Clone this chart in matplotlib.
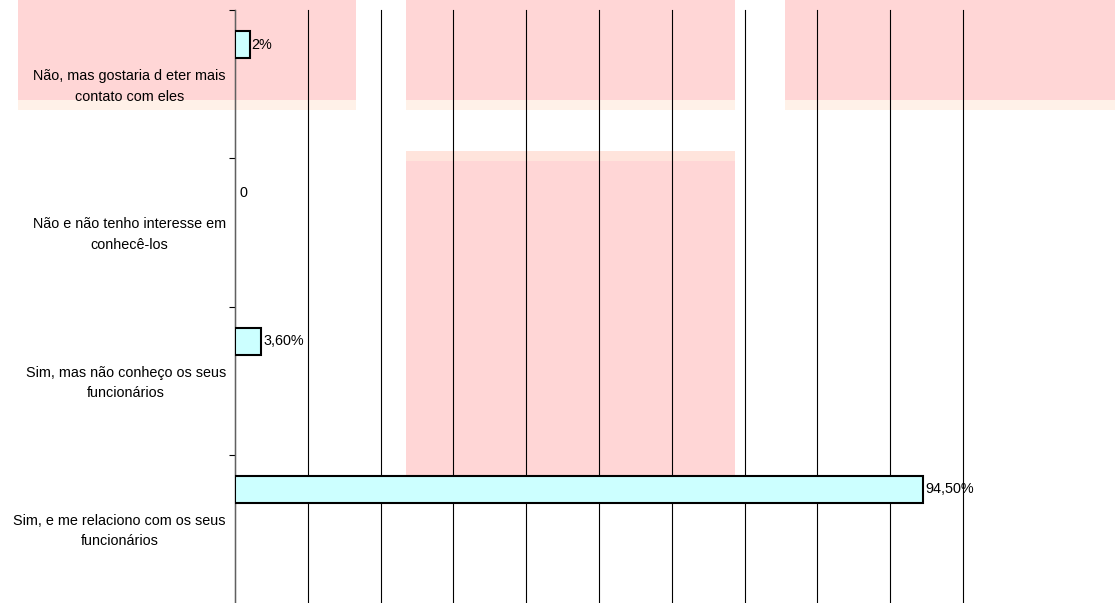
import matplotlib
matplotlib.use("Agg")
import matplotlib.pyplot as plt
from matplotlib.patches import Rectangle

plt.rcParams['font.family'] = ['Liberation Sans', 'DejaVu Sans']

categories = [
    "Não, mas gostaria d eter mais\ncontato com eles",
    "Não e não tenho interesse em\nconhecê-los",
    "Sim, mas não conheço os seus\nfuncionários",
    "Sim, e me relaciono com os seus\nfuncionários",
]
values = [2.0, 0.0, 3.6, 94.5]
value_labels = ["2%", "0", "3,60%", "94,50%"]
x_ticks = [0, 10, 20, 30, 40, 50, 60, 70, 80, 90, 100]

W, H = 1115, 603
fig = plt.figure(figsize=(W / 100, H / 100), dpi=100)
fig.patch.set_facecolor('white')

# background pink blocks (figure pixel coords: x0, y0_top, x1, y1_bottom)
def px_rect(x0, y0, x1, y1, color):
    fig.patches.append(Rectangle((x0 / W, 1 - y1 / H), (x1 - x0) / W, (y1 - y0) / H,
                                 transform=fig.transFigure, facecolor=color,
                                 edgecolor='none', zorder=0))

fringe = '#FFF1E8'
pink = '#FFD6D6'
px_rect(18, 0, 356, 110, fringe)
px_rect(18, 0, 356, 100, pink)
px_rect(406, 0, 735, 110, fringe)
px_rect(406, 0, 735, 100, pink)
px_rect(785, 0, 1115, 110, fringe)
px_rect(785, 0, 1115, 100, pink)
px_rect(406, 151, 735, 476, '#FFE4DC')
px_rect(406, 161, 735, 476, pink)

ax = fig.add_axes([235 / W, 0, (963 - 235) / W, (H - 10) / H])
ax.set_zorder(2)
ax.patch.set_alpha(0)

FS = 10.4
n = len(categories)
pos = list(range(n))
bar_offset = -0.266
bar_h = 0.18
bar_y = [p + bar_offset for p in pos]
edges = ['black' if v > 0 else 'none' for v in values]
ax.barh(bar_y, values, height=bar_h, color='#CCFFFF', edgecolor=edges,
        linewidth=1.5, zorder=3)

for y, v, lab in zip(bar_y, values, value_labels):
    ax.annotate(lab, xy=(v, y), xytext=(1.5 if v > 0 else 3.5, 0), textcoords='offset points',
                ha='left', va='center', fontsize=FS, color='black', zorder=4)

ax.set_xlim(0, 100)
ax.set_ylim(n - 0.5, -0.5)
ax.set_xticks(x_ticks)
ax.set_xticklabels([])
ax.tick_params(axis='x', length=0)
ax.grid(axis='x', color='black', linewidth=0.8, zorder=1)
for gl in ax.get_xgridlines():
    gl.set_clip_on(False)

ax.set_yticks([p - 0.5 for p in pos])
ax.set_yticklabels([])
ax.tick_params(axis='y', direction='out', length=4, width=0.8, color='black')

for s in ['top', 'right', 'bottom']:
    ax.spines[s].set_visible(False)
ax.spines['left'].set_color('#606060')
ax.spines['left'].set_linewidth(1.0)

for p, cat in zip(pos, categories):
    ax.text(-0.0124, p + 0.015, cat, transform=ax.get_yaxis_transform(), ha='right',
            va='center', multialignment='center',
            fontsize=FS, linespacing=1.6, color='black')

fig.savefig('out.png', dpi=100)
